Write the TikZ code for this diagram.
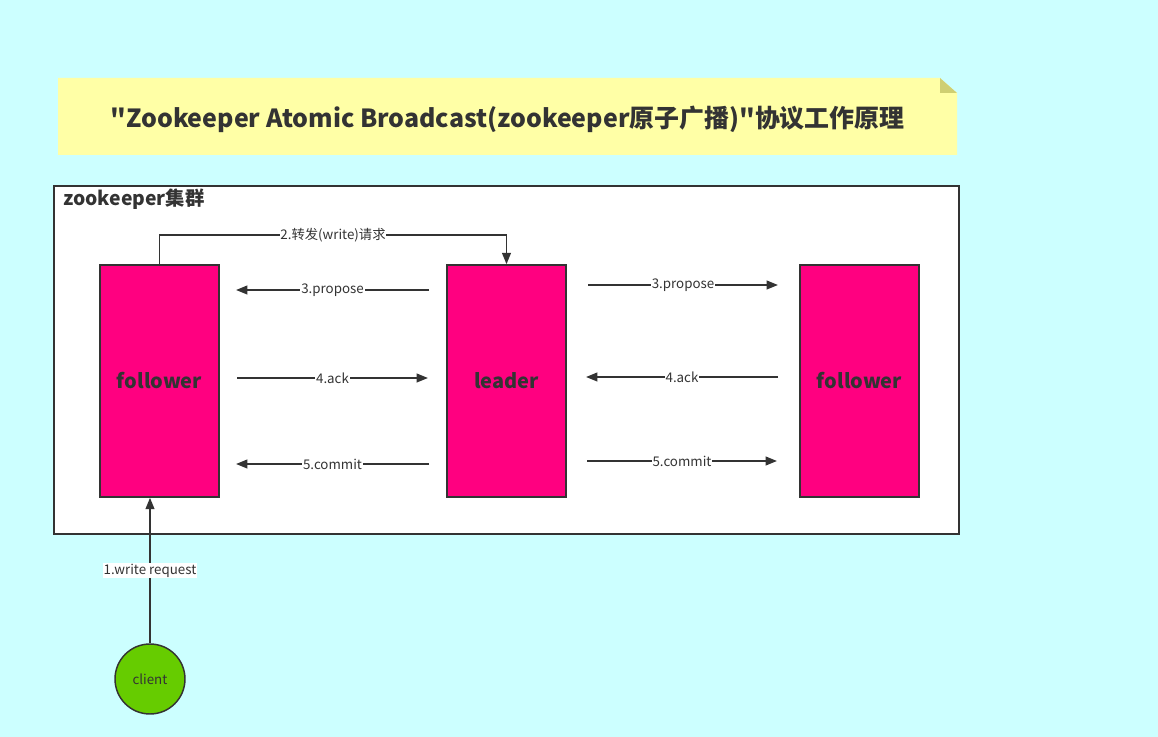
\documentclass[tikz,border=0pt]{standalone}
\usepackage{fontspec}
\setmainfont{Noto Sans CJK SC}
\newfontfamily\qfont{Noto Sans CJK SC}
\usetikzlibrary{arrows.meta}
\definecolor{bgcyan}{HTML}{CCFFFF}
\definecolor{noteyel}{HTML}{FFFFA6}
\definecolor{notefold}{HTML}{CFCF72}
\definecolor{mag}{HTML}{FF0080}
\definecolor{grn}{HTML}{66CC00}
\definecolor{ink}{HTML}{333333}
\newcommand{\dq}{{\qfont\bfseries "}}
\tikzset{
  pbox/.style={draw=ink, line width=1.1pt, fill=mag, minimum width=89.25pt, minimum height=174pt, inner sep=0pt,
    font=\fontsize{15}{18}\selectfont\bfseries, text=ink},
  arr/.style={draw=ink, line width=1.4pt, -{Triangle[length=8.5pt,width=6.5pt]}},
  lbl/.style={fill=white, inner sep=0.6pt, font=\fontsize{10}{11}\selectfont, text=ink},
}
\begin{document}
\begin{tikzpicture}[x=0.75pt,y=-0.75pt]
\fill[bgcyan] (0,0) rectangle (1158,737);
\useasboundingbox (0,0) rectangle (1158,737);
% title note
\fill[noteyel] (58,78) -- (940,78) -- (957,93) -- (957,155) -- (58,155) -- cycle;
\fill[notefold] (940,78) -- (957,93) -- (940,93) -- cycle;
\node[font=\fontsize{18.7}{22}\selectfont\bfseries, text=ink] (title) at (507.5,119) {\dq Zookeeper Atomic Broadcast(zookeeper原子广播)\dq 协议工作原理};
% cluster
\node[draw=ink, line width=1.1pt, fill=white, minimum width=678.75pt, minimum height=261pt, inner sep=0pt] (cluster) at (506.5,360) {};
\node[anchor=west, font=\fontsize{14.5}{17}\selectfont\bfseries, text=ink, inner sep=0pt] (clabel) at (63,199) {zookeeper集群};
% boxes
\node[pbox] (lf) at (159.5,381) {follower};
\node[pbox] (ldr) at (506.5,381) {leader};
\node[pbox] (rf) at (859.5,381) {follower};
% client
\node[circle, draw=ink, line width=1.1pt, fill=grn, minimum size=52.5pt, inner sep=0pt, font=\fontsize{10}{11}\selectfont, text=ink] (client) at (150,679) {client};
% coordinates
\coordinate (t1) at (159.5,235);
\coordinate (t2) at (506.5,235);
\coordinate (pa1) at (429,290); \coordinate (pa2) at (236,290);
\coordinate (pb1) at (588,285); \coordinate (pb2) at (778,285);
\coordinate (aa1) at (237,378); \coordinate (aa2) at (428,378);
\coordinate (ab1) at (778,377); \coordinate (ab2) at (586,377);
\coordinate (ca1) at (429,464); \coordinate (ca2) at (236,464);
\coordinate (cb1) at (587,461); \coordinate (cb2) at (777,461);
% connectors
\draw[arr] (lf.north) -- (t1) -- node[lbl]{2.转发(write)请求} (t2) -- (ldr.north);
\draw[arr] (pa1) -- node[lbl]{3.propose} (pa2);
\draw[arr] (pb1) -- node[lbl]{3.propose} (pb2);
\draw[arr] (aa1) -- node[lbl]{4.ack} (aa2);
\draw[arr] (ab1) -- node[lbl]{4.ack} (ab2);
\draw[arr] (ca1) -- node[lbl]{5.commit} (ca2);
\draw[arr] (cb1) -- node[lbl]{5.commit} (cb2);
\draw[arr] (client) -- node[lbl, pos=0.5]{1.write request} (client |- lf.south);
\end{tikzpicture}
\end{document}
